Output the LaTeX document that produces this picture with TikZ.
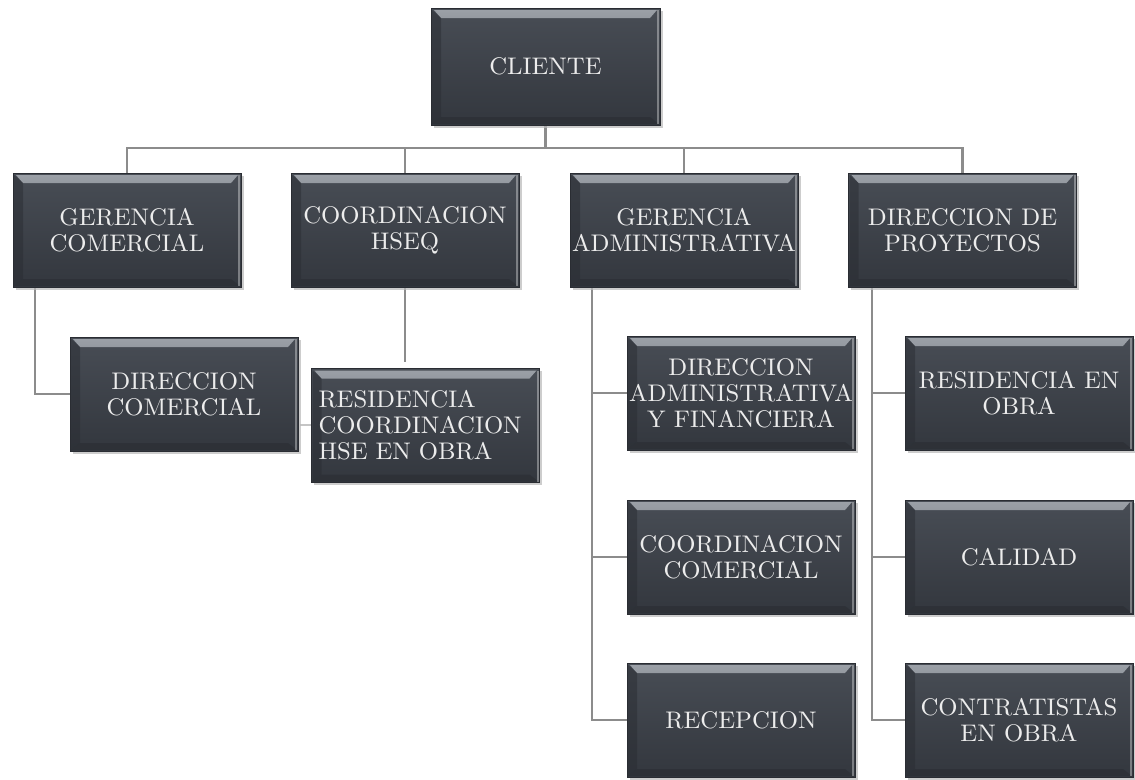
\documentclass[tikz,border=0pt]{standalone}
\usepackage{fontspec}
\usetikzlibrary{shadows,backgrounds}
\newfontfamily\boxfont{lmroman10-regular.otf}[FakeStretch=1.03]
\definecolor{boxtop}{HTML}{484D55}
\definecolor{boxbot}{HTML}{33373E}
\definecolor{boxedge}{HTML}{2A2D33}
\definecolor{bevel}{HTML}{9CA1A8}
\definecolor{boxtext}{HTML}{ECECEC}
\definecolor{conn}{HTML}{8C8C8C}
\tikzset{
  orgbox/.style={rectangle, minimum width=228pt, minimum height=114pt, inner sep=0pt,
    align=center, text=boxtext, font=\boxfont\fontsize{24}{26}\selectfont,
    top color=boxtop, bottom color=boxbot, draw=boxedge, line width=0.8pt,
    drop shadow={shadow xshift=2.5pt, shadow yshift=-2.5pt, fill=gray!55, opacity=0.7},
    path picture={
      \shade[top color=bevel, bottom color=boxtop]
        ([xshift=3pt,yshift=-2pt]path picture bounding box.north west) --
        ([xshift=-3pt,yshift=-2pt]path picture bounding box.north east) --
        ([xshift=-10pt,yshift=-10pt]path picture bounding box.north east) --
        ([xshift=10pt,yshift=-10pt]path picture bounding box.north west) -- cycle;
      \fill[boxedge, opacity=0.5]
        ([xshift=1pt,yshift=-2pt]path picture bounding box.north west) --
        ([xshift=10pt,yshift=-10pt]path picture bounding box.north west) --
        ([xshift=10pt,yshift=8pt]path picture bounding box.south west) --
        ([xshift=1pt,yshift=1pt]path picture bounding box.south west) -- cycle;
      \fill[boxedge, opacity=0.6]
        ([xshift=1pt,yshift=1pt]path picture bounding box.south west) --
        ([xshift=10pt,yshift=8pt]path picture bounding box.south west) --
        ([xshift=-10pt,yshift=8pt]path picture bounding box.south east) --
        ([xshift=-1pt,yshift=1pt]path picture bounding box.south east) -- cycle;
      \fill[white, opacity=0.35]
        ([xshift=-3pt,yshift=-2pt]path picture bounding box.north east) --
        ([xshift=-1pt,yshift=-2pt]path picture bounding box.north east) --
        ([xshift=-1pt,yshift=1pt]path picture bounding box.south east) --
        ([xshift=-3pt,yshift=1pt]path picture bounding box.south east) -- cycle;
    }},
  link/.style={draw=conn, line width=2.4pt},
  faintlink/.style={draw=conn, line width=1.5pt, opacity=0.5}
}
\begin{document}
\begin{tikzpicture}[x=1pt,y=-1pt]
\useasboundingbox (0,0) rectangle (1135,779);

% nodes
\node[orgbox, minimum width=229pt, minimum height=117pt] (cli) at (545.5,66.5) {CLIENTE};
\node[orgbox] (gc) at (127,230) {GERENCIA\\COMERCIAL};
\node[orgbox] (hseq) at (405,230) {COORDINACION\\HSEQ};
\node[orgbox] (ga) at (684,230) {GERENCIA\\ADMINISTRATIVA};
\node[orgbox] (dp) at (962.5,230) {DIRECCION DE\\PROYECTOS};

\node[orgbox] (dc) at (184,394) {DIRECCION\\COMERCIAL};
\node[orgbox, align=left, text width=214pt] (res) at (425.5,425.5) {RESIDENCIA\\COORDINACION\\HSE EN OBRA};

\node[orgbox] (daf) at (741,393) {DIRECCION\\ADMINISTRATIVA\\Y FINANCIERA};
\node[orgbox] (cc) at (741,557) {COORDINACION\\COMERCIAL};
\node[orgbox] (rec) at (741,720) {RECEPCION};

\node[orgbox] (ro) at (1019,393) {RESIDENCIA EN\\OBRA};
\node[orgbox] (cal) at (1019,557) {CALIDAD};
\node[orgbox] (co) at (1019,720) {CONTRATISTAS\\EN OBRA};

% connector coordinates
\coordinate (bus) at (545.5,148);
\coordinate (hseqend) at (405,362);
\coordinate (tick) at (300,425);
\coordinate (gcx) at (35,287);
\coordinate (gax) at (592,287);
\coordinate (dpx) at (872,287);

\begin{pgfonlayer}{background}
  \fill[white] (0,0) rectangle (1135,779);
  \draw[link] (cli.south) -- (bus);
  \draw[link] (gc.north) |- (bus);
  \draw[link] (dp.north) |- (bus);
  \draw[link] (hseq.north) -- (hseq.north |- bus);
  \draw[link] (ga.north) -- (ga.north |- bus);
  \draw[link] (gcx) |- (dc.west);
  \draw[link] (hseq.south) -- (hseqend);
  \draw[faintlink] (tick) -- (tick -| res.west);
  \draw[link] (gax) |- (rec.west);
  \draw[link] (gax |- daf.west) -- (daf.west);
  \draw[link] (gax |- cc.west) -- (cc.west);
  \draw[link] (dpx) |- (co.west);
  \draw[link] (dpx |- ro.west) -- (ro.west);
  \draw[link] (dpx |- cal.west) -- (cal.west);
\end{pgfonlayer}
\end{tikzpicture}
\end{document}
